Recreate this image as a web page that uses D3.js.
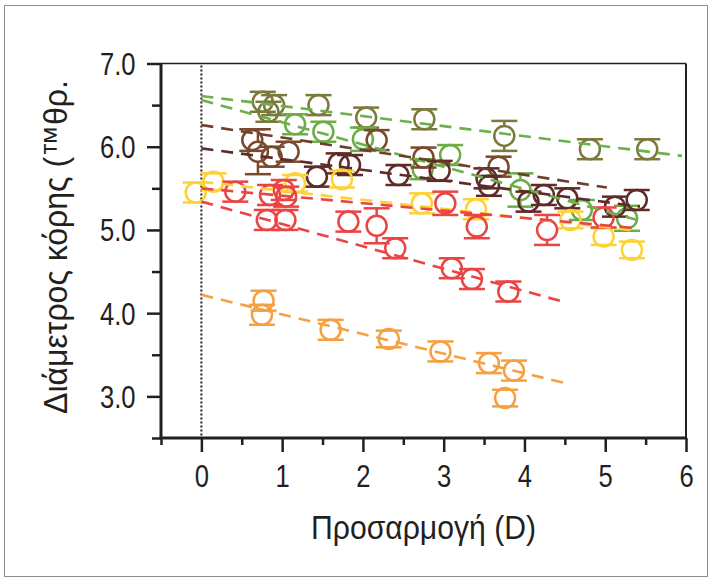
<!DOCTYPE html>
<html>
<head>
<meta charset="utf-8">
<script src="https://cdn.jsdelivr.net/npm/d3@7/dist/d3.min.js"></script>
<style>
  html, body { margin: 0; padding: 0; background: #fff; }
  svg { display: block; }
  .lbl { font-family: "Liberation Sans", Arial, sans-serif; fill: #231f20; }
</style>
</head>
<body>
<svg id="chart" width="712" height="578"></svg>
<script>
// Tick values
const xTicks = [0, 1, 2, 3, 4, 5, 6];
const yTicks = [3.0, 4.0, 5.0, 6.0, 7.0];
const xMinor = [-0.5, 0.5, 1.5, 2.5, 3.5, 4.5, 5.5];
const yMinor = [2.5, 3.5, 4.5, 5.5, 6.5];

// Points: [accommodation (D), pupil diameter, error]
const olivePts = [[0.76,6.54,0.12],[0.90,6.50,0.12],[0.83,6.42,0.12],[1.45,6.50,0.12],[2.04,6.35,0.12],[2.76,6.33,0.12],[3.75,6.13,0.18],[4.81,5.97,0.12],[5.52,5.97,0.12]];
const greenPts = [[1.16,6.27,0.12],[1.51,6.18,0.12],[2.00,6.09,0.14],[2.74,5.73,0.12],[3.08,5.90,0.12],[3.95,5.48,0.20],[4.71,5.24,0.12],[5.27,5.14,0.15]];
const brownPts = [[0.63,6.08,0.13],[0.70,5.94,0.27],[0.87,5.88,0.12],[1.08,5.94,0.12],[2.17,6.08,0.12],[2.75,5.87,0.12],[3.68,5.76,0.12]];
const maroonPts = [[1.43,5.64,0.12],[1.70,5.80,0.12],[1.84,5.78,0.12],[2.44,5.66,0.12],[2.95,5.71,0.12],[3.53,5.62,0.12],[3.56,5.53,0.12],[4.05,5.34,0.12],[4.24,5.42,0.12],[4.53,5.38,0.12],[5.12,5.28,0.12],[5.39,5.36,0.12]];
const yellowPts = [[-0.07,5.45,0.12],[0.15,5.58,0.10],[1.16,5.56,0.10],[1.74,5.61,0.10],[2.73,5.32,0.12],[3.40,5.25,0.12],[4.57,5.12,0.10],[4.98,4.92,0.10],[5.33,4.76,0.10]];
const redUpperPts = [[0.42,5.46,0.12],[0.85,5.42,0.12],[1.02,5.48,0.12],[1.05,5.40,0.12],[3.02,5.32,0.14],[3.41,5.04,0.14],[4.28,5.00,0.18],[4.98,5.15,0.12]];
const redLowerPts = [[0.81,5.12,0.12],[1.04,5.12,0.12],[1.82,5.10,0.12],[2.17,5.05,0.21],[2.40,4.78,0.12],[3.10,4.54,0.12],[3.35,4.41,0.12],[3.80,4.26,0.12]];
const orangePts = [[0.77,4.15,0.12],[0.75,3.98,0.12],[1.60,3.80,0.12],[2.32,3.69,0.10],[2.96,3.54,0.12],[3.56,3.40,0.12],[3.87,3.31,0.12],[3.76,2.98,0.10]];

// Fitted trend lines: [[x0, y0], [x1, y1]]
const oliveFit = [[0,6.61],[5.95,5.89]];
const greenFit = [[0,6.56],[5.47,5.10]];
const brownFit = [[0,6.26],[5.02,5.51]];
const maroonFit = [[0,5.98],[5.43,5.28]];
const yellowFit = [[0,5.58],[5.31,5.00]];
const redUpperFit = [[0,5.50],[5.39,5.02]];
const redLowerFit = [[0,5.34],[4.47,4.14]];
const orangeFit = [[0,4.22],[4.50,3.16]];

const series = [
  { pts: olivePts,    fit: oliveFit,    color: "#7b7a3c", line: "#6cb04a" },
  { pts: greenPts,    fit: greenFit,    color: "#6cad48", line: "#6cb04a" },
  { pts: brownPts,    fit: brownFit,    color: "#7a4a2c", line: "#6e3f2c" },
  { pts: maroonPts,   fit: maroonFit,   color: "#5e2b28", line: "#5e2b28" },
  { pts: yellowPts,   fit: yellowFit,   color: "#fdd235", line: "#fdd235" },
  { pts: redUpperPts, fit: redUpperFit, color: "#eb4444", line: "#eb4444" },
  { pts: redLowerPts, fit: redLowerFit, color: "#eb4444", line: "#eb4444" },
  { pts: orangePts,   fit: orangeFit,   color: "#f5a042", line: "#f5a042" }
];

const svg = d3.select("#chart");
const L = 161, R = 686, T = 63.5, B = 438;
const x = d3.scaleLinear().domain([-0.5, 6]).range([L, R]);
const y = d3.scaleLinear().domain([2.5, 7.0]).range([B, T]);
const narrow = 0.84; // horizontal squeeze for the condensed lettering

// outer frame
svg.append("rect").attr("x", 4.5).attr("y", 5.5).attr("width", 703).attr("height", 571)
  .attr("fill", "none").attr("stroke", "#8c8c8c").attr("stroke-width", 1);

// plot frame top/right
svg.append("line").attr("x1", L).attr("x2", R).attr("y1", T).attr("y2", T)
  .attr("stroke", "#231f20").attr("stroke-width", 1.5);
svg.append("line").attr("x1", R).attr("x2", R).attr("y1", T).attr("y2", B)
  .attr("stroke", "#231f20").attr("stroke-width", 2);

// y axis
const yAxis = d3.axisLeft(y).tickValues(yTicks).tickSize(14).tickFormat(d3.format(".1f"));
const gy = svg.append("g").attr("transform", `translate(${L},0)`).call(yAxis);
gy.select(".domain").attr("stroke", "#231f20").attr("stroke-width", 3).attr("d", `M0,${T}V${B}`);
gy.selectAll(".tick line").attr("stroke", "#231f20").attr("stroke-width", 2.5);
gy.selectAll(".tick text").attr("class", "lbl").attr("font-size", 30.5)
  .attr("x", 0).attr("dy", "0.36em").attr("text-anchor", "end")
  .attr("transform", `translate(-25.5,0) scale(${narrow},1)`);
svg.append("g").attr("transform", `translate(${L},0)`)
  .call(d3.axisLeft(y).tickValues(yMinor).tickSize(9).tickFormat(""))
  .call(g => g.select(".domain").remove())
  .selectAll(".tick line").attr("stroke", "#231f20").attr("stroke-width", 2.5);

// x axis
const xAxis = d3.axisBottom(x).tickValues(xTicks).tickSize(14).tickFormat(d3.format("d"));
const gx = svg.append("g").attr("transform", `translate(0,${B})`).call(xAxis);
gx.select(".domain").attr("stroke", "#231f20").attr("stroke-width", 3).attr("d", `M${L - 1.5},0H${R}`);
gx.selectAll(".tick line").attr("stroke", "#231f20").attr("stroke-width", 2.5);
gx.selectAll(".tick text").attr("class", "lbl").attr("font-size", 30.5)
  .attr("y", 0).attr("dy", 0).attr("text-anchor", "middle")
  .attr("transform", `translate(0,49) scale(${narrow},1)`);
svg.append("g").attr("transform", `translate(0,${B})`)
  .call(d3.axisBottom(x).tickValues(xMinor).tickSize(7).tickFormat(""))
  .call(g => g.select(".domain").remove())
  .selectAll(".tick line").attr("stroke", "#231f20").attr("stroke-width", 2.5);

// zero-accommodation reference line
svg.append("line").attr("x1", x(0)).attr("x2", x(0)).attr("y1", T + 2).attr("y2", B - 2)
  .attr("stroke", "#231f20").attr("stroke-width", 2).attr("stroke-dasharray", "2,2");

// axis titles, squeezed to the condensed width
function squeezed(g, str, width) {
  const t = g.append("text").attr("class", "lbl").attr("font-size", 33.5)
    .attr("text-anchor", "middle").text(str);
  const w = t.node().getComputedTextLength();
  t.attr("transform", `scale(${width / w},1)`);
  return t;
}
squeezed(svg.append("g").attr("transform", `translate(${(L + R) / 2},539)`), "Προσαρμογή (D)", 225);
squeezed(svg.append("g").attr("transform", `translate(67,247) rotate(-90)`), "Διάμετρος κόρης (™θρ.", 334);

const r = 10, cap = 13;
const plot = svg.append("g");

series.forEach(s => {
  const g = plot.append("g");
  const pt = g.selectAll("g.pt").data(s.pts).enter().append("g").attr("class", "pt");
  // error bars: stems outside the marker, caps at the ends
  pt.each(function(d) {
    const el = d3.select(this);
    const cx = x(d[0]), cy = y(d[1]);
    const top = y(d[1] + d[2]), bot = y(d[1] - d[2]);
    if (cy - top > r) {
      el.append("line").attr("x1", cx).attr("x2", cx).attr("y1", top).attr("y2", cy - r);
      el.append("line").attr("x1", cx).attr("x2", cx).attr("y1", cy + r).attr("y2", bot);
    }
    el.append("line").attr("x1", cx - cap).attr("x2", cx + cap).attr("y1", top).attr("y2", top);
    el.append("line").attr("x1", cx - cap).attr("x2", cx + cap).attr("y1", bot).attr("y2", bot);
    el.append("circle").attr("cx", cx).attr("cy", cy).attr("r", r).attr("fill", "none");
  });
  g.selectAll("line").attr("stroke", s.color).attr("stroke-width", 2.5);
  g.selectAll("circle").attr("stroke", s.color).attr("stroke-width", 2.5);
});

series.forEach(s => {
  plot.append("path").datum(s.fit)
    .attr("d", d3.line().x(d => x(d[0])).y(d => y(d[1])))
    .attr("fill", "none").attr("stroke", s.line).attr("stroke-width", 2.6)
    .attr("stroke-dasharray", "12,8");
});
</script>
</body>
</html>
